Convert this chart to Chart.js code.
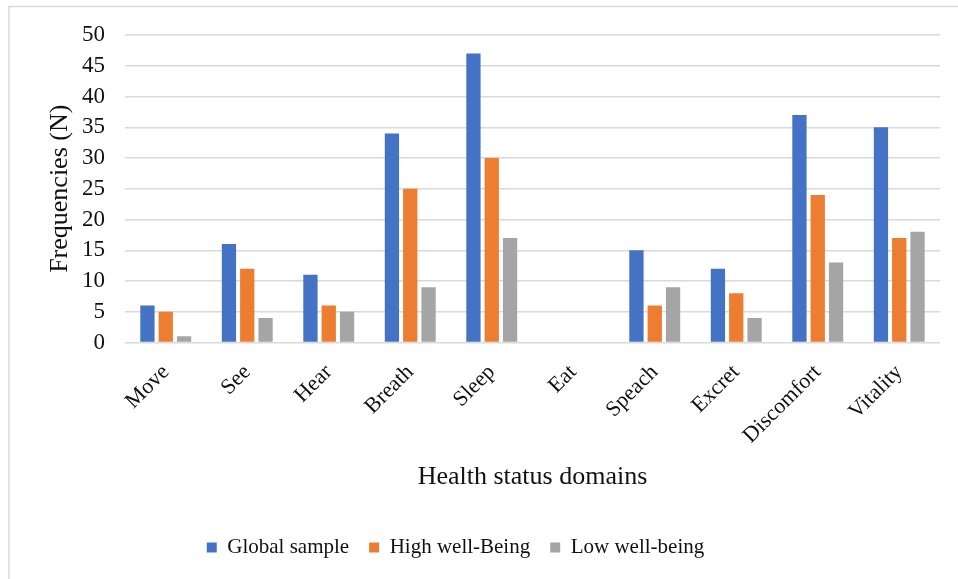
<!DOCTYPE html>
<html>
<head>
<meta charset="utf-8">
<script src="https://cdn.jsdelivr.net/npm/chart.js@4.4.1/dist/chart.umd.min.js"></script>
<style>
  html, body { margin: 0; padding: 0; background: #fff; }
  canvas { display: block; }
</style>
</head>
<body>
<canvas id="healthChart" width="958" height="579"></canvas>
<script>
const domains = ['Move', 'See', 'Hear', 'Breath', 'Sleep', 'Eat', 'Speach', 'Excret', 'Discomfort', 'Vitality'];
const globalSample = [6, 16, 11, 34, 47, 0, 15, 12, 37, 35];
const highWellBeing = [5, 12, 6, 25, 30, 0, 6, 8, 24, 17];
const lowWellBeing = [1, 4, 5, 9, 17, 0, 9, 4, 13, 18];
const yTicks = [0, 5, 10, 15, 20, 25, 30, 35, 40, 45, 50];

const serif = '"Liberation Serif", "Times New Roman", serif';

// light grey frame round the whole chart, like the Excel chart border
const framePlugin = {
    id: 'frame',
    beforeDraw(chart) {
        const ctx = chart.ctx;
        ctx.save();
        ctx.strokeStyle = '#d9d9d9';
        ctx.lineWidth = 1.5;
        ctx.strokeRect(9, 6.5, chart.width + 20, chart.height + 20);
        ctx.restore();
    }
};

// Excel centres the legend a bit left of the canvas centre
const legendShift = {
    id: 'legendShift',
    afterLayout(chart) {
        chart.legend.left -= 19;
        chart.legend.right -= 19;
    }
};

const ctx = document.getElementById('healthChart').getContext('2d');
const chart = new Chart(ctx, {
    type: 'bar',
    data: {
        labels: domains,
        datasets: [
            { label: 'Global sample', data: globalSample, backgroundColor: '#4472C4' },
            { label: 'High well-Being', data: highWellBeing, backgroundColor: '#ED7D31' },
            { label: 'Low well-being', data: lowWellBeing, backgroundColor: '#A5A5A5' }
        ]
    },
    options: {
        responsive: false,
        devicePixelRatio: 1,
        animation: false,
        categoryPercentage: 0.674,
        barPercentage: 0.78,
        layout: { padding: { left: 9, top: 35, right: 18, bottom: 11 } },
        plugins: {
            tooltip: { enabled: false },
            legend: {
                position: 'bottom',
                labels: {
                    boxWidth: 10,
                    boxHeight: 10,
                    padding: 20,
                    color: '#111',
                    font: { family: serif, size: 21 }
                }
            }
        },
        scales: {
            x: {
                grid: { display: false },
                border: { display: false },
                ticks: {
                    minRotation: 45,
                    maxRotation: 45,
                    padding: 9,
                    color: '#111',
                    font: { family: serif, size: 22 }
                },
                title: {
                    display: true,
                    text: 'Health status domains',
                    color: '#111',
                    padding: { top: 0, bottom: 24 },
                    font: { family: serif, size: 26 }
                },
                afterFit: s => { s.height = 174.5; }
            },
            y: {
                min: 0,
                max: 50,
                afterBuildTicks: s => { s.ticks = yTicks.map(v => ({ value: v })); },
                grid: { color: '#d9d9d9', lineWidth: 1.5, drawTicks: false },
                border: { display: false },
                ticks: {
                    padding: 20,
                    color: '#111',
                    font: { family: serif, size: 23 }
                },
                title: {
                    display: true,
                    text: 'Frequencies (N)',
                    color: '#111',
                    padding: { top: 36, bottom: 0 },
                    font: { family: serif, size: 26 }
                },
                afterFit: s => { s.width = 116; }
            }
        }
    },
    plugins: [framePlugin, legendShift]
});
</script>
</body>
</html>
